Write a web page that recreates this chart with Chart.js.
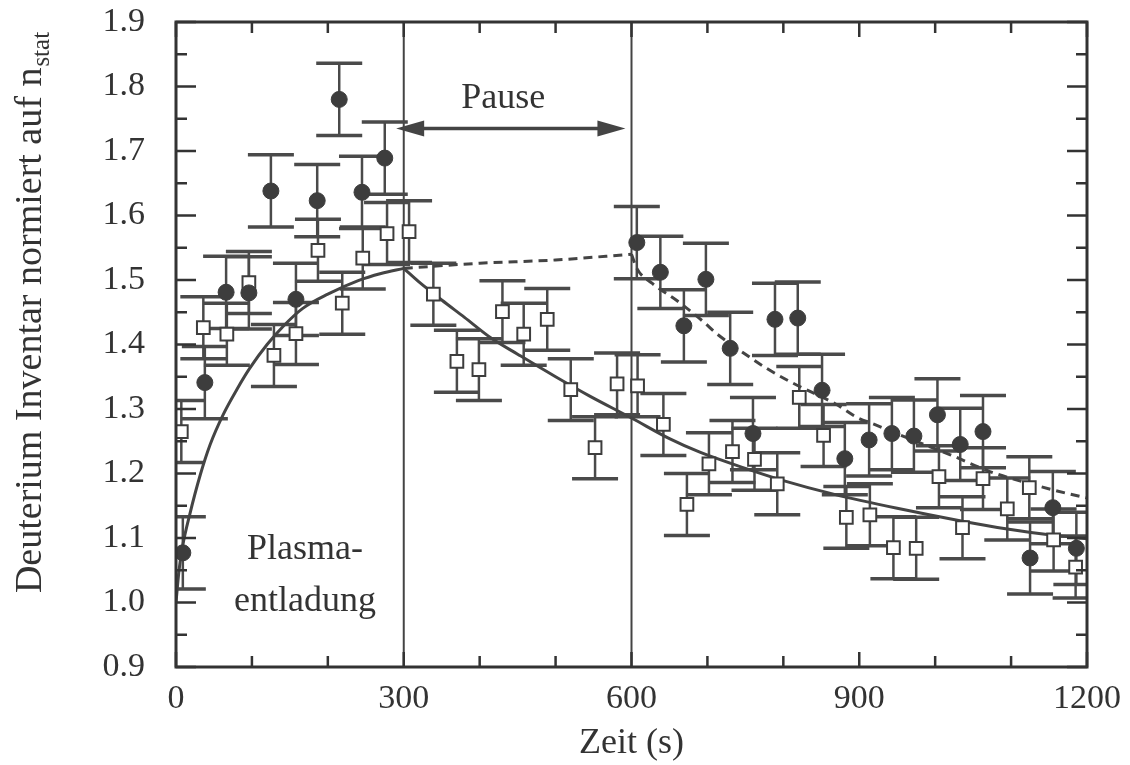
<!DOCTYPE html>
<html>
<head>
<meta charset="utf-8">
<script src="https://cdn.jsdelivr.net/npm/chart.js@4/dist/chart.umd.min.js"></script>
<style>
  body { margin: 0; background: #fff; }
  canvas { display: block; }
</style>
</head>
<body>
<canvas id="chart" width="1130" height="765" style="width:1130px;height:765px"></canvas>
<script>
// filled circles
const circleTimes = [9, 38, 66, 96, 125, 158, 186, 215, 245, 275,
    607, 638, 669, 698, 730, 760, 789, 819, 851, 881, 913, 943, 972, 1003, 1033, 1063, 1125, 1155, 1186];
const circleValues = [1.077, 1.341, 1.481, 1.48, 1.638, 1.47, 1.623, 1.78, 1.636, 1.689,
    1.558, 1.512, 1.429, 1.501, 1.394, 1.262, 1.439, 1.441, 1.329, 1.223, 1.252, 1.262, 1.258, 1.291, 1.245, 1.265, 1.069, 1.147, 1.084];
const circleError = 0.056;

// open squares
const squareTimes = [7, 36, 67, 96, 129, 158, 187, 219, 246, 278, 307,
    339, 370, 399, 430, 458, 489, 520, 552, 581, 608,
    642, 673, 702, 733, 762, 792, 821, 853, 883, 914, 945, 975, 1005, 1036, 1063, 1095, 1124, 1156, 1185];
const squareValues = [1.265, 1.426, 1.416, 1.496, 1.383, 1.417, 1.546, 1.464, 1.534, 1.572, 1.575,
    1.478, 1.374, 1.361, 1.451, 1.416, 1.439, 1.330, 1.240, 1.339, 1.336,
    1.276, 1.152, 1.215, 1.234, 1.222, 1.184, 1.318, 1.259, 1.132, 1.136, 1.085, 1.084, 1.195, 1.116, 1.192, 1.145, 1.178, 1.097, 1.055];
const squareError = 0.048;

// fit curves
const riseTimes = [0, 4, 9, 18, 32, 45, 62, 80, 97, 120, 141, 167, 200, 240, 270, 300];
const riseValues = [1.0, 1.05, 1.089, 1.136, 1.198, 1.245, 1.291, 1.33, 1.363, 1.40, 1.428, 1.456, 1.478, 1.499, 1.51, 1.518];
const decayTimes = [300, 320, 350, 380, 415, 450, 500, 545, 600, 650, 690, 750, 800, 866, 950, 1036, 1095, 1150, 1200];
const decayValues = [1.518, 1.497, 1.469, 1.442, 1.41, 1.385, 1.35, 1.32, 1.286, 1.254, 1.233, 1.208, 1.189, 1.168, 1.146, 1.126, 1.114, 1.105, 1.099];
const pauseDashTimes = [300, 400, 500, 600];
const pauseDashValues = [1.518, 1.526, 1.531, 1.54];
const afterDashTimes = [600, 607, 627, 661, 694, 712, 745, 778, 808, 870, 897, 918, 970, 1020, 1072, 1138, 1174, 1200];
const afterDashValues = [1.54, 1.518, 1.495, 1.467, 1.436, 1.417, 1.389, 1.363, 1.343, 1.307, 1.287, 1.277, 1.252, 1.229, 1.203, 1.18, 1.169, 1.162];

const xTickValues = [0, 300, 600, 900, 1200];
const yTickValues = [0.9, 1.0, 1.1, 1.2, 1.3, 1.4, 1.5, 1.6, 1.7, 1.8, 1.9];

const phaseBounds = [300, 600];
const pauseArrow = { from: 290, to: 592, level: 1.735 };
const notes = [
    { text: "Pause", t: 431, v: 1.782 },
    { text: "Plasma-", t: 170, v: 1.082 },
    { text: "entladung", t: 170, v: 1.001 }
];

const ink = "#333";
const serif = "'Liberation Serif', 'Times New Roman', serif";

function pts(xs, ys) {
    return xs.map((x, i) => ({ x: x, y: ys[i] }));
}

function curve(xs, ys, dashed) {
    return {
        type: "line",
        data: pts(xs, ys),
        borderColor: "#444",
        borderWidth: 3,
        borderDash: dashed ? [9, 6] : [],
        pointRadius: 0,
        fill: false,
        cubicInterpolationMode: "monotone"
    };
}

const extras = {
    id: "extras",
    beforeDatasetsDraw(chart) {
        const ctx = chart.ctx;
        const x = chart.scales.x, y = chart.scales.y;
        const a = chart.chartArea;
        ctx.save();
        // phase boundaries
        ctx.strokeStyle = "#444";
        ctx.lineWidth = 2;
        phaseBounds.forEach(t => {
            const px = x.getPixelForValue(t);
            ctx.beginPath();
            ctx.moveTo(px, a.top);
            ctx.lineTo(px, a.bottom);
            ctx.stroke();
        });
        // error bars
        ctx.strokeStyle = "#4a4a4a";
        const bars = (ts, vs, err) => {
            ts.forEach((t, i) => {
                const px = x.getPixelForValue(t);
                const top = y.getPixelForValue(vs[i] + err);
                const bot = y.getPixelForValue(vs[i] - err);
                ctx.lineWidth = 2.5;
                ctx.beginPath();
                ctx.moveTo(px, top);
                ctx.lineTo(px, bot);
                ctx.stroke();
                ctx.lineWidth = 3.5;
                ctx.beginPath();
                ctx.moveTo(px - 23, top);
                ctx.lineTo(px + 23, top);
                ctx.moveTo(px - 23, bot);
                ctx.lineTo(px + 23, bot);
                ctx.stroke();
            });
        };
        ctx.save();
        ctx.beginPath();
        ctx.rect(a.left, a.top, a.right - a.left, a.bottom - a.top);
        ctx.clip();
        bars(squareTimes, squareValues, squareError);
        bars(circleTimes, circleValues, circleError);
        ctx.restore();
        ctx.restore();
    },
    afterDraw(chart) {
        const ctx = chart.ctx;
        const x = chart.scales.x, y = chart.scales.y;
        const a = chart.chartArea;
        ctx.save();
        // frame
        ctx.strokeStyle = ink;
        ctx.lineWidth = 3;
        ctx.strokeRect(a.left, a.top, a.right - a.left, a.bottom - a.top);
        // inward ticks
        ctx.lineWidth = 2.5;
        ctx.beginPath();
        for (let t = 0; t <= 1200; t += 100) {
            const px = x.getPixelForValue(t);
            const len = t % 300 === 0 ? 15 : 11;
            ctx.moveTo(px, a.bottom);
            ctx.lineTo(px, a.bottom - len);
            ctx.moveTo(px, a.top);
            ctx.lineTo(px, a.top + len);
        }
        for (let k = 0; k <= 20; k++) {
            const py = y.getPixelForValue(0.9 + k * 0.05);
            const len = k % 2 === 0 ? 20 : 11;
            ctx.moveTo(a.left, py);
            ctx.lineTo(a.left + len, py);
            ctx.moveTo(a.right, py);
            ctx.lineTo(a.right - len, py);
        }
        ctx.stroke();
        // pause arrow
        const ay = y.getPixelForValue(pauseArrow.level);
        const ax1 = x.getPixelForValue(pauseArrow.from);
        const ax2 = x.getPixelForValue(pauseArrow.to);
        ctx.strokeStyle = "#444";
        ctx.fillStyle = "#444";
        ctx.lineWidth = 3.5;
        ctx.beginPath();
        ctx.moveTo(ax1 + 20, ay);
        ctx.lineTo(ax2 - 20, ay);
        ctx.stroke();
        ctx.beginPath();
        ctx.moveTo(ax1, ay);
        ctx.lineTo(ax1 + 28, ay - 8);
        ctx.lineTo(ax1 + 28, ay + 8);
        ctx.closePath();
        ctx.moveTo(ax2, ay);
        ctx.lineTo(ax2 - 28, ay - 8);
        ctx.lineTo(ax2 - 28, ay + 8);
        ctx.closePath();
        ctx.fill();
        // notes
        ctx.fillStyle = ink;
        ctx.font = "36px " + serif;
        ctx.textAlign = "center";
        ctx.textBaseline = "middle";
        notes.forEach(n => {
            ctx.fillText(n.text, x.getPixelForValue(n.t), y.getPixelForValue(n.v));
        });
        // y title with subscript
        ctx.translate(41, 313);
        ctx.rotate(-Math.PI / 2);
        const main = "Deuterium Inventar normiert auf n";
        const sub = "stat";
        ctx.font = "38px " + serif;
        const w1 = ctx.measureText(main).width;
        ctx.font = "25px " + serif;
        const w2 = ctx.measureText(sub).width;
        const start = -(w1 + w2) / 2;
        ctx.textAlign = "left";
        ctx.textBaseline = "alphabetic";
        ctx.font = "38px " + serif;
        ctx.fillText(main, start, 0);
        ctx.font = "25px " + serif;
        ctx.fillText(sub, start + w1 + 1, 8);
        ctx.restore();
    }
};

new Chart(document.getElementById("chart"), {
    type: "scatter",
    data: {
        datasets: [
            {
                data: pts(circleTimes, circleValues),
                pointStyle: "circle",
                pointRadius: 8,
                backgroundColor: "#3d3d3d",
                borderColor: "#3d3d3d",
                borderWidth: 1
            },
            {
                data: pts(squareTimes, squareValues),
                pointStyle: "rect",
                pointRadius: 9,
                backgroundColor: "#fff",
                borderColor: "#3d3d3d",
                borderWidth: 2
            },
            curve(riseTimes, riseValues, false),
            curve(decayTimes, decayValues, false),
            curve(pauseDashTimes, pauseDashValues, true),
            curve(afterDashTimes, afterDashValues, true)
        ]
    },
    options: {
        responsive: false,
        animation: false,
        events: [],
        layout: { padding: { top: 22, right: 43, left: 0, bottom: 0 } },
        plugins: { legend: { display: false }, tooltip: { enabled: false } },
        scales: {
            x: {
                type: "linear",
                min: 0,
                max: 1200,
                afterFit: s => { s.height = 98; s.paddingLeft = 0; s.paddingRight = 0; },
                afterBuildTicks: s => { s.ticks = xTickValues.map(v => ({ value: v })); },
                ticks: { font: { family: serif, size: 34 }, color: ink, padding: 12, maxRotation: 0, callback: v => String(v) },
                grid: { display: false, drawTicks: false },
                border: { display: false },
                title: { display: true, text: "Zeit (s)", font: { family: serif, size: 36 }, color: ink, padding: { top: 0, bottom: 0 } }
            },
            y: {
                min: 0.9,
                max: 1.9,
                afterFit: s => { s.width = 176; s.paddingTop = 0; s.paddingBottom = 0; },
                afterBuildTicks: s => { s.ticks = yTickValues.map(v => ({ value: v })); },
                ticks: { font: { family: serif, size: 34 }, color: ink, padding: 31, callback: v => v.toFixed(1) },
                grid: { display: false, drawTicks: false },
                border: { display: false }
            }
        }
    },
    plugins: [extras]
});
</script>
</body>
</html>
